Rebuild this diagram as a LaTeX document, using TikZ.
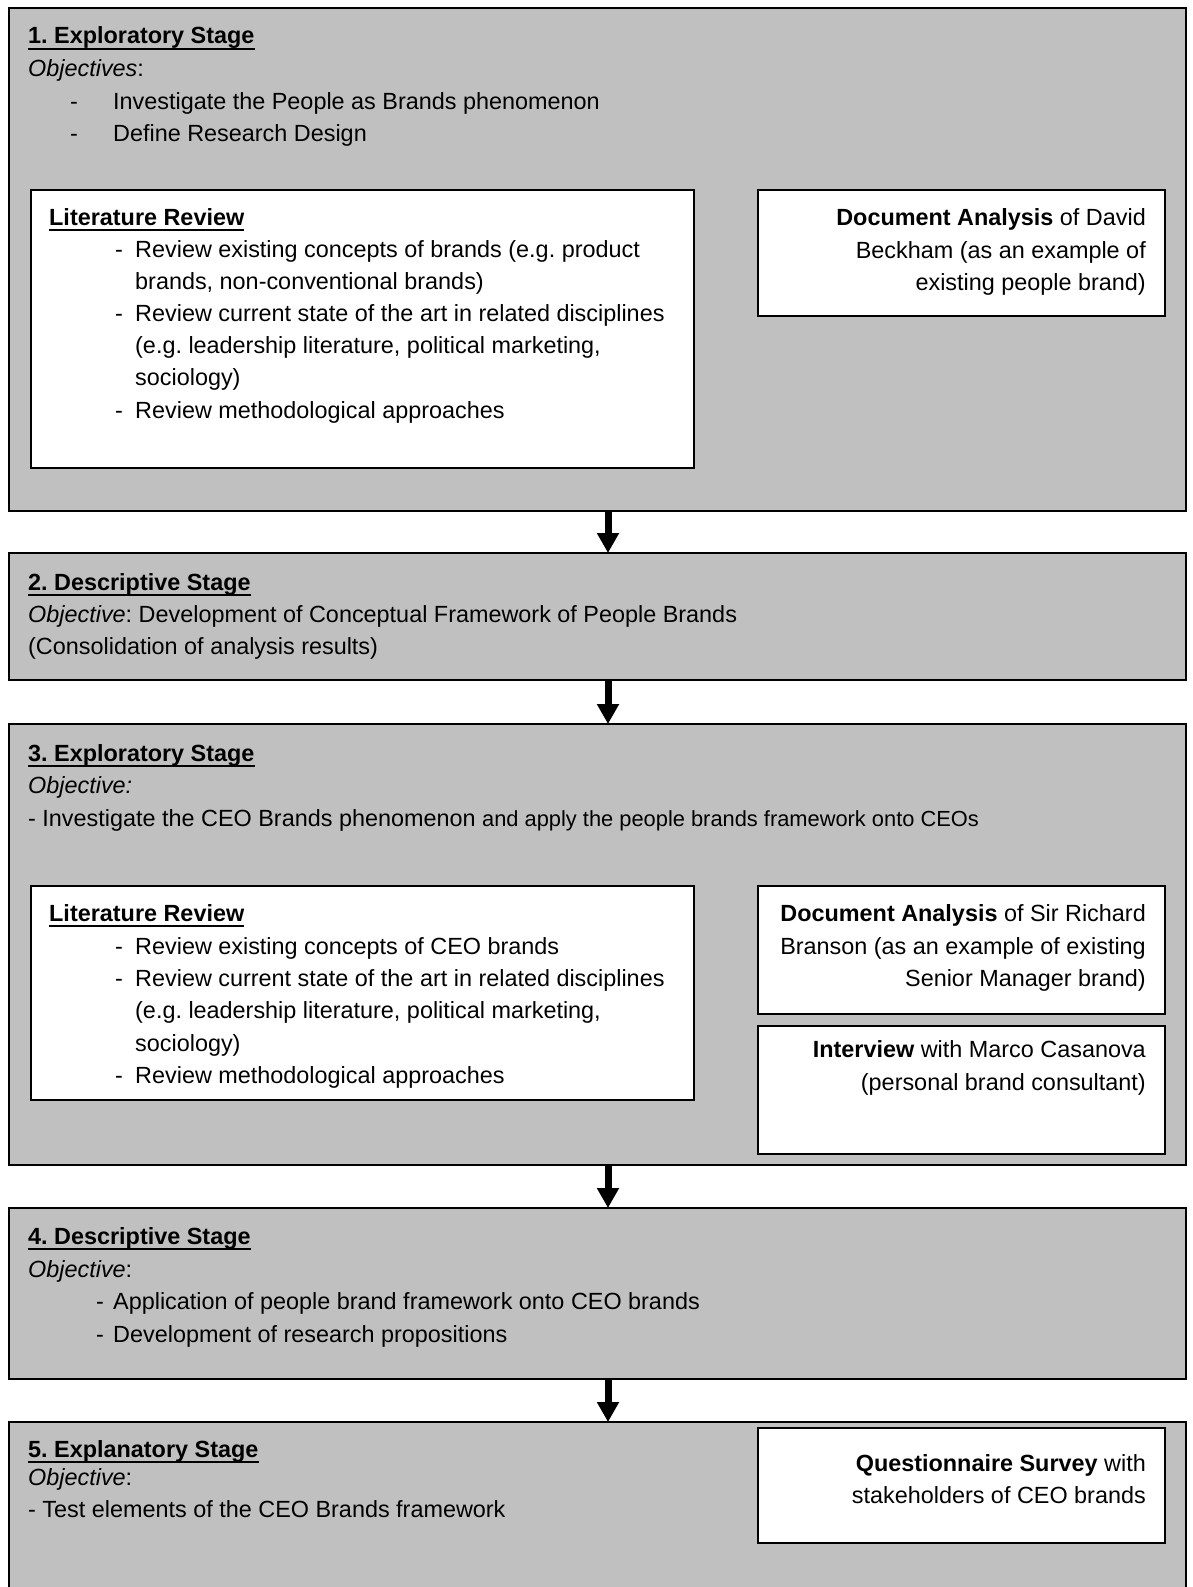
\documentclass[tikz,border=0pt]{standalone}
\usepackage{fontspec}
\setmainfont{Liberation Sans}
\usetikzlibrary{arrows.meta}

\definecolor{stagegray}{RGB}{192,192,192}
% underline drawn beneath a heading node
\newcommand{\ulnode}[1]{\draw[line width=1.8pt] ([yshift=-5.2pt]#1.base west) -- ([yshift=-5.2pt]#1.base east);}
\newcommand{\sm}{\fontsize{21.85pt}{30pt}\selectfont}
% dash bullet: name, dash x, text x, baseline y, text
\newcommand{\dashline}[5]{%
  \node[txt] (#1d) at (#2,#4) {-};
  \node[txt] (#1) at (#3,#4) {#5};}

\begin{document}
\frenchspacing
\begin{tikzpicture}[x=1pt,y=-1pt,
  every node/.style={font=\fontsize{23.4pt}{32.4pt}\selectfont},
  stage/.style={draw=black, line width=2pt, fill=stagegray, inner sep=0pt, outer sep=0pt, anchor=north west},
  panel/.style={draw=black, line width=2.5pt, fill=white, inner sep=0pt, outer sep=0pt, anchor=north west},
  txt/.style={inner sep=0pt, anchor=base west},
  hdtxt/.style={txt, font=\fontsize{23.4pt}{32.4pt}\selectfont\bfseries},
  rtxt/.style={inner sep=0pt, anchor=base east},
  flow/.style={line width=7pt, -{Triangle[length=20pt,width=21pt]}}]
\useasboundingbox (0,0) rectangle (1192,1587);

% stage frames
\node[stage, minimum width=1177pt, minimum height=503pt] (s1) at (9,8) {};
\node[stage, minimum width=1177pt, minimum height=127pt] (s2) at (9,553) {};
\node[stage, minimum width=1177pt, minimum height=441pt] (s3) at (9,724) {};
\node[stage, minimum width=1177pt, minimum height=171pt] (s4) at (9,1208) {};
\node[stage, minimum width=1177pt, minimum height=200pt] (s5) at (9,1422) {};

% flow arrows between stages
\coordinate (axis) at (608,0);
\draw[flow] (s1.south -| axis) -- (s2.north -| axis);
\draw[flow] (s2.south -| axis) -- (s3.north -| axis);
\draw[flow] (s3.south -| axis) -- (s4.north -| axis);
\draw[flow] (s4.south -| axis) -- (s5.north -| axis);

% inner panels
\node[panel, minimum width=663pt, minimum height=278pt] (lit1) at (31,190) {};
\node[panel, minimum width=407pt, minimum height=126pt] (doc1) at (758,190) {};
\node[panel, minimum width=663pt, minimum height=214pt] (lit2) at (31,886) {};
\node[panel, minimum width=407pt, minimum height=128pt] (doc2) at (758,886) {};
\node[panel, minimum width=407pt, minimum height=128pt] (int2) at (758,1026) {};
\node[panel, minimum width=407pt, minimum height=115pt] (qst5) at (758,1428) {};

% stage 1
\node[hdtxt] (h1) at (28,44) {1. Exploratory Stage}; \ulnode{h1}
\node[txt] (o1) at (28,77) {\textit{Objectives}:};
\dashline{o1a}{70}{113}{109}{Investigate the People as Brands phenomenon}
\dashline{o1b}{70}{113}{141}{Define Research Design}

\node[hdtxt] (lit1h) at (49,225) {Literature Review}; \ulnode{lit1h}
\dashline{lit1a}{115}{135}{257}{Review existing concepts of brands (e.g. product}
\node[txt] (lit1a2) at (135,289) {brands, non-conventional brands)};
\dashline{lit1b}{115}{135}{321}{Review current state of the art in related disciplines}
\node[txt] (lit1b2) at (135,353) {(e.g. leadership literature, political marketing,};
\node[txt] (lit1b3) at (135,385) {sociology)};
\dashline{lit1c}{115}{135}{418}{Review methodological approaches}

\node[rtxt] (doc1a) at (1146,225) {\textbf{Document Analysis} of David};
\node[rtxt] (doc1b) at (1146,258) {Beckham (as an example of};
\node[rtxt] (doc1c) at (1146,290) {existing people brand)};

% stage 2
\node[hdtxt] (h2) at (28,590) {2. Descriptive Stage}; \ulnode{h2}
\node[txt] (o2) at (28,622) {\textit{Objective}: Development of Conceptual Framework of People Brands};
\node[txt] (o2b) at (28,654) {(Consolidation of analysis results)};

% stage 3
\node[hdtxt] (h3) at (28,761) {3. Exploratory Stage}; \ulnode{h3}
\node[txt] (o3) at (28,793) {\textit{Objective:}};
\node[txt] (o3a) at (28,826) {- Investigate the CEO Brands phenomenon {\sm and apply the people brands framework onto CEOs}};

\node[hdtxt] (lit2h) at (49,921) {Literature Review}; \ulnode{lit2h}
\dashline{lit2a}{115}{135}{954}{Review existing concepts of CEO brands}
\dashline{lit2b}{115}{135}{986}{Review current state of the art in related disciplines}
\node[txt] (lit2b2) at (135,1018) {(e.g. leadership literature, political marketing,};
\node[txt] (lit2b3) at (135,1051) {sociology)};
\dashline{lit2c}{115}{135}{1083}{Review methodological approaches}

\node[rtxt] (doc2a) at (1146,921) {\textbf{Document Analysis} of Sir Richard};
\node[rtxt] (doc2b) at (1146,954) {Branson (as an example of existing};
\node[rtxt] (doc2c) at (1146,986) {Senior Manager brand)};

\node[rtxt] (int2a) at (1146,1057) {\textbf{Interview} with Marco Casanova};
\node[rtxt] (int2b) at (1146,1090) {(personal brand consultant)};

% stage 4
\node[hdtxt] (h4) at (28,1244) {4. Descriptive Stage}; \ulnode{h4}
\node[txt] (o4) at (28,1277) {\textit{Objective}:};
\dashline{o4a}{96}{113}{1309}{Application of people brand framework onto CEO brands}
\dashline{o4b}{96}{113}{1342}{Development of research propositions}

% stage 5
\node[hdtxt] (h5) at (28,1457) {5. Explanatory Stage}; \ulnode{h5}
\node[txt] (o5) at (28,1485) {\textit{Objective}:};
\node[txt] (o5a) at (28,1517) {- Test elements of the CEO Brands framework};

\node[rtxt] (qst5a) at (1146,1471) {\textbf{Questionnaire Survey} with};
\node[rtxt] (qst5b) at (1146,1503) {stakeholders of CEO brands};
\end{tikzpicture}
\end{document}
